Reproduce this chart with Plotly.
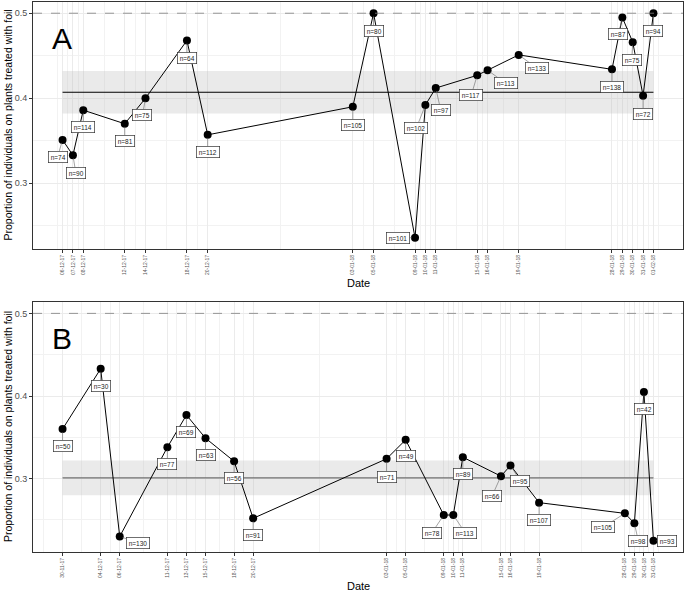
import pandas as pd
import numpy as np
import plotly.graph_objects as go

# ---------------- data ----------------
dates_a = ["2017-12-06", "2017-12-07", "2017-12-08", "2017-12-12", "2017-12-14",
           "2017-12-18", "2017-12-20", "2018-01-03", "2018-01-05", "2018-01-09",
           "2018-01-10", "2018-01-11", "2018-01-15", "2018-01-16", "2018-01-19",
           "2018-01-28", "2018-01-29", "2018-01-30", "2018-01-31", "2018-02-01"]
prop_a = [0.351, 0.333, 0.386, 0.370, 0.400, 0.468, 0.357, 0.390, 0.500, 0.236,
          0.392, 0.412, 0.427, 0.433, 0.451, 0.434, 0.495, 0.466, 0.403, 0.500]
n_a = [74, 90, 114, 81, 75, 64, 112, 105, 80, 101,
       102, 97, 117, 113, 133, 138, 87, 75, 72, 94]
mean_a = 0.407
ci_a = [0.382, 0.432]

dates_b = ["2017-11-30", "2017-12-04", "2017-12-06", "2017-12-11", "2017-12-13",
           "2017-12-15", "2017-12-18", "2017-12-20", "2018-01-03", "2018-01-05",
           "2018-01-09", "2018-01-10", "2018-01-11", "2018-01-15", "2018-01-16",
           "2018-01-19", "2018-01-28", "2018-01-29", "2018-01-30", "2018-01-31"]
prop_b = [0.360, 0.433, 0.230, 0.338, 0.377, 0.349, 0.321, 0.252, 0.324, 0.347,
          0.256, 0.256, 0.326, 0.303, 0.316, 0.271, 0.258, 0.246, 0.405, 0.225]
n_b = [50, 30, 130, 77, 69, 63, 56, 91, 71, 49,
       78, 113, 89, 66, 95, 107, 105, 98, 42, 93]
mean_b = 0.301
ci_b = [0.280, 0.322]

null_line = 0.5

# label placement (pixel offsets of the n= boxes from their points)
lab_off_a = [(-5, 17), (3, 18), (0, 17), (0, 17), (-3, 17), (0, 18), (0, 17),
             (0, 18), (0, 18), (-17, 0), (-9, 23), (5, 22), (-6, 20), (18, 13),
             (18, 13), (0, 18), (-4, 17), (-1, 18), (0, 18), (0, 18)]
lab_off_b = [(0, 17), (0, 17), (18, 6), (0, 17), (0, 17), (0, 17), (0, 17),
             (0, 17), (0, 18), (0, 16), (-12, 18), (12, 18), (0, 17), (-9, 20),
             (10, 16), (0, 17), (-22, 14), (4, 18), (0, 17), (14, 0)]

FONT = "Liberation Sans, Arial, Helvetica, sans-serif"
GRID = "#EBEBEB"

fig = go.Figure()

panels = [
    ("A", dates_a, prop_a, n_a, mean_a, ci_a, lab_off_a, "x", "y", "black", [0.551, 1.0]),
    ("B", dates_b, prop_b, n_b, mean_b, ci_b, lab_off_b, "x2", "y2", "#707070", [0.0, 0.4545]),
]

for tag, dts, prop, nn, mu, ci, offs, xa, ya, mcol, dom in panels:
    d = pd.to_datetime(dts)
    first, last = d.min(), d.max()

    # confidence band and mean
    fig.add_trace(go.Scatter(x=[first, last, last, first, first],
                             y=[ci[0], ci[0], ci[1], ci[1], ci[0]],
                             fill="toself", fillcolor="rgba(190,190,190,0.32)",
                             line=dict(width=0), mode="lines", hoverinfo="skip",
                             xaxis=xa, yaxis=ya, showlegend=False))
    fig.add_trace(go.Scatter(x=[first, last], y=[mu, mu], mode="lines",
                             line=dict(color=mcol, width=1.1),
                             xaxis=xa, yaxis=ya, showlegend=False))
    # observations
    fig.add_trace(go.Scatter(x=d, y=prop, mode="lines+markers",
                             line=dict(color="black", width=1),
                             marker=dict(color="black", size=8),
                             xaxis=xa, yaxis=ya, showlegend=False))

    # axis ranges with ggplot-like 5 % expansion
    span = last - first
    xr = [first - span * 0.05, last + span * 0.05]
    ylo, yhi = min(min(prop), ci[0]), max(max(prop), null_line)
    yr = [ylo - (yhi - ylo) * 0.05, yhi + (yhi - ylo) * 0.05]

    # minor breaks halfway between the date breaks
    mids = list(d[:-1] + (d[1:] - d[:-1]) / 2)
    mids = [d[0] - (d[1] - d[0]) / 2] + mids + [d[-1] + (d[-1] - d[-2]) / 2]

    xkey = "xaxis" if xa == "x" else "xaxis2"
    ykey = "yaxis" if ya == "y" else "yaxis2"
    fig.update_layout(**{
        xkey: dict(type="date", range=xr, domain=[0, 1], anchor=ya,
                   automargin=False,
                   tickmode="array", tickvals=list(d),
                   ticktext=list(d.strftime("%d-%m-%y")),
                   tickangle=-90, tickfont=dict(size=5, color="#555555", family=FONT),
                   ticks="outside", ticklen=3, tickwidth=1, tickcolor="#333333",
                   showgrid=True, gridcolor=GRID, gridwidth=1,
                   minor=dict(tickmode="array", tickvals=mids, showgrid=True,
                              gridcolor="#F2F2F2", gridwidth=0.8, ticks=""),
                   showline=True, linecolor="#333333", linewidth=1, mirror=True,
                   zeroline=False),
        ykey: dict(range=yr, domain=dom, anchor=xa, automargin=False,
                   tickmode="array", tickvals=[0.3, 0.4, 0.5],
                   ticktext=["0.3", "0.4", "0.5"],
                   tickfont=dict(size=9, color="#4D4D4D", family=FONT),
                   ticks="outside", ticklen=3, tickwidth=1, tickcolor="#333333",
                   showgrid=True, gridcolor=GRID, gridwidth=1,
                   minor=dict(tickmode="array", tickvals=[0.25, 0.35, 0.45],
                              showgrid=True, gridcolor="#F2F2F2", gridwidth=0.8,
                              ticks=""),
                   showline=True, linecolor="#333333", linewidth=1, mirror=True,
                   zeroline=False),
    })

    # dashed reference line at 0.5
    fig.add_shape(type="line", xref=xa + " domain", yref=ya, x0=0, x1=1,
                  y0=null_line, y1=null_line,
                  line=dict(color="#7F7F7F", width=0.8, dash="dash"))

    # n= labels
    for xi, yi, ni, (dx, dy) in zip(d, prop, nn, offs):
        fig.add_annotation(x=xi, y=yi, xref=xa, yref=ya, text=f"n={ni}",
                           showarrow=True, arrowhead=0, arrowwidth=0.6,
                           arrowcolor="#666666", ax=dx, ay=dy, standoff=3,
                           font=dict(size=6.5, color="#1A1A1A", family=FONT),
                           bgcolor="white", bordercolor="#333333",
                           borderwidth=0.7, borderpad=2)

    # panel letter, axis titles
    fig.add_annotation(x=0.044, y=dom[1], xref="paper", yref="paper",
                       xanchor="center", yanchor="middle",
                       yshift=-36, text=tag, showarrow=False,
                       font=dict(size=30, color="black", family=FONT))
    fig.add_annotation(x=0, y=(dom[0] + dom[1]) / 2, xref="paper", yref="paper",
                       xanchor="center", yanchor="middle",
                       xshift=-25, text="Proportion of individuals on plants treated with foil",
                       textangle=-90, showarrow=False,
                       font=dict(size=10.5, color="black", family=FONT))
    fig.add_annotation(x=0.5, y=dom[0], xref="paper", yref="paper",
                       xanchor="center", yanchor="middle",
                       yshift=-34, text="Date", showarrow=False,
                       font=dict(size=11, color="black", family=FONT))

fig.update_layout(width=685, height=591,
                  margin=dict(l=33, r=2, t=2, b=39),
                  paper_bgcolor="white", plot_bgcolor="white",
                  font=dict(family=FONT), showlegend=False)

fig.write_html("out.html", config={"displayModeBar": False},
               post_script="document.body.style.margin='0';")
